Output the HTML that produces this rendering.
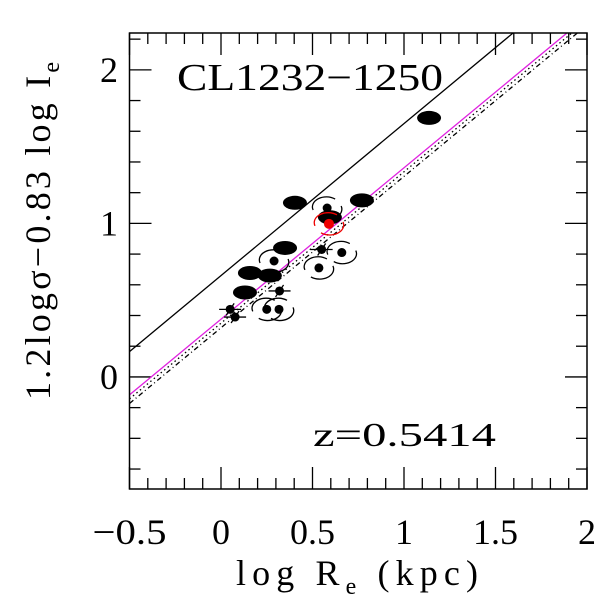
<!DOCTYPE html>
<html><head><meta charset="utf-8"><style>
body{margin:0;background:#fff}
svg text{font-family:"Liberation Serif",serif;fill:#000}
</style></head><body>
<svg id="c" width="600" height="600" viewBox="0 0 600 600">
<g id="plot"></g>
<rect x="129.5" y="33" width="457.5" height="456" fill="none" stroke="#000" stroke-width="1.5"/>
<text x="177" y="90" font-size="38" textLength="266" lengthAdjust="spacingAndGlyphs">CL1232−1250</text>
<text x="313" y="446" font-size="34" textLength="183" lengthAdjust="spacingAndGlyphs">z=0.5414</text>
<text x="236" y="585" font-size="36" textLength="242" lengthAdjust="spacing">log R<tspan font-size="24" dy="9">e</tspan><tspan dy="-9"> (kpc)</tspan></text>
<text transform="translate(50,400) rotate(-90)" font-size="36" textLength="338" lengthAdjust="spacing">1.2logσ−0.83 log I<tspan font-size="24" dy="9">e</tspan></text>
</svg>
<script>
const xTicks=[-0.5,0,0.5,1,1.5,2];
const xTickLabels=["−0.5","0","0.5","1","1.5","2"];
const yTicks=[0,1,2];
const yTickLabels=["0","1","2"];
const ellX=[1.137,0.404,0.77,0.595,0.35,0.158,0.267,0.131];
const ellY=[1.687,1.134,1.15,1.04,0.84,0.677,0.66,0.55];
const spiralX=[0.58,0.66,0.535,0.29,0.25,0.317];
const spiralY=[1.10,0.81,0.71,0.755,0.44,0.44];
const crossX=[0.55,0.32,0.05,0.077];
const crossY=[0.83,0.56,0.44,0.39];
const redX=[0.59], redY=[0.997];
const lineIntercepts=[0.66,0.376,0.35,0.32];
const lineSlope=[0.99,0.986,0.986,0.986];
const X0=-0.5,X1=2,Y0=-0.73,Y1=2.24,L=129.5,R=587,T=33,B=489;
const sx=v=>L+(v-X0)/(X1-X0)*(R-L);
const sy=v=>B-(v-Y0)/(Y1-Y0)*(B-T);
const NS="http://www.w3.org/2000/svg";
const g=document.getElementById('plot');
function mk(t,a){const e=document.createElementNS(NS,t);for(const k in a)e.setAttribute(k,a[k]);g.appendChild(e);return e;}
for(let v=-0.5;v<=2.0001;v+=0.1){const x=sx(v);const maj=Math.abs(v*2-Math.round(v*2))<1e-6;const h=maj?22:11;
 let e=mk('line',{x1:x,x2:x,y1:B,y2:B-h,stroke:'#000','stroke-width':1.3});
 
 
 e=mk('line',{x1:x,x2:x,y1:T,y2:T+h,stroke:'#000','stroke-width':1.3});
 
 }
for(let i=-3;i<=11;i++){const v=i*0.2;if(v<Y0||v>Y1)continue;const y=sy(v);const maj=i%5===0;const h=maj?22:11;
 let e=mk('line',{x1:L,x2:L+h,y1:y,y2:y,stroke:'#000','stroke-width':1.3});
 
 
 e=mk('line',{x1:R,x2:R-h,y1:y,y2:y,stroke:'#000','stroke-width':1.3});
 
 }
xTicks.forEach((v,i)=>{const e=mk('text',{x:sx(v),y:544,'font-size':36,'text-anchor':'middle'});e.textContent=xTickLabels[i];
 if(i===0){e.setAttribute('textLength','74');e.setAttribute('lengthAdjust','spacingAndGlyphs');}
 
 });
yTicks.forEach((v,i)=>{const e=mk('text',{x:118,y:sy(v)+12,'font-size':36,'text-anchor':'end'});e.textContent=yTickLabels[i];
 
 });
const styles=[{stroke:'#000'},{stroke:'#e020e0'},{stroke:'#000','stroke-dasharray':'1.5 3'},{stroke:'#000','stroke-dasharray':'5 3 1 3'}];
const lnames=['fit-line-solid','fit-line-magenta','fit-line-dotted','fit-line-dashed'];
const cp=mk('clipPath',{id:'cl'});const cr=document.createElementNS(NS,'rect');cr.setAttribute('x',L);cr.setAttribute('y',T);cr.setAttribute('width',R-L);cr.setAttribute('height',B-T);cp.appendChild(cr);
lineIntercepts.forEach((b,i)=>{const a={x1:sx(X0),y1:sy(b+lineSlope[i]*X0),x2:sx(X1),y2:sy(b+lineSlope[i]*X1),'stroke-width':1.3,'clip-path':'url(#cl)',...styles[i]};
 const e=mk('line',a);
 
 });
ellX.forEach((v,i)=>{const e=mk('ellipse',{cx:sx(v),cy:sy(ellY[i]),rx:12,ry:7,fill:'#000'});
 
 });
spiralX.forEach((v,i)=>{const x=sx(v),y=sy(spiralY[i]);
 const e=mk('circle',{cx:x,cy:y,r:4.5,fill:'#000'});
 
 
 const p=mk('path',{d:`M${x-14},${y+2} A14 10 0 0 1 ${x+8},${y-9} M${x+14},${y-2} A14 10 0 0 1 ${x-8},${y+9}`,fill:'none',stroke:'#000','stroke-width':1.3});
 
 });
crossX.forEach((v,i)=>{const x=sx(v),y=sy(crossY[i]);
 const e=mk('circle',{cx:x,cy:y,r:4.5,fill:'#000'});
 
 
 const p=mk('path',{d:`M${x-11},${y} H${x+11} M${x-4},${y+6} L${x+4},${y-6}`,stroke:'#000','stroke-width':1.3});
 
 });
redX.forEach((v,i)=>{const x=sx(v),y=sy(redY[i]);
 const e=mk('circle',{cx:x,cy:y,r:5,fill:'#e00'});
 
 
 const p=mk('path',{d:`M${x-14},${y+2} A14 10 0 0 1 ${x+8},${y-9} M${x+14},${y-2} A14 10 0 0 1 ${x-8},${y+9}`,fill:'none',stroke:'#e00','stroke-width':1.3});
 
 });
</script>
</body></html>
